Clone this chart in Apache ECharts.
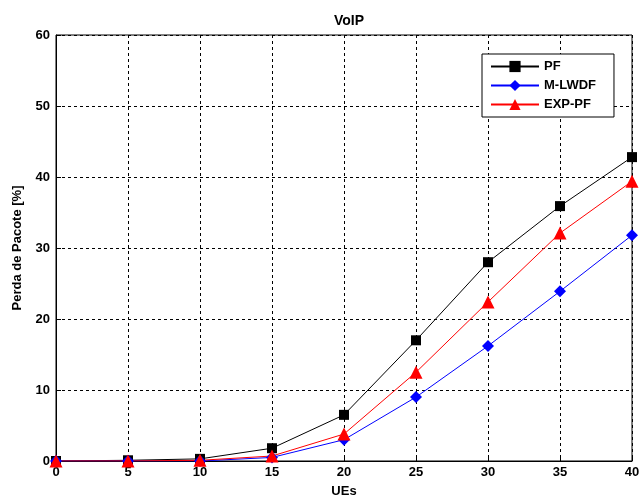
<!DOCTYPE html>
<html><head><meta charset="utf-8">
<script src="https://cdn.jsdelivr.net/npm/echarts@6/dist/echarts.min.js"></script>
<style>html,body{margin:0;padding:0;background:#fff}#c{width:639px;height:497px}</style>
</head><body><div id="c"></div>
<script>
const ues = [0, 5, 10, 15, 20, 25, 30, 35, 40];
const pf = [0, 0.1, 0.3, 1.8, 6.5, 17.0, 28.0, 35.9, 42.8];
const mlwdf = [0, 0, 0, 0.5, 3.0, 9.0, 16.2, 23.9, 31.8];
const exppf = [0, 0, 0.1, 0.7, 3.8, 12.5, 22.4, 32.1, 39.4];
const seriesNames = ['PF', 'M-LWDF', 'EXP-PF'];

const font = 'Liberation Sans, Arial, sans-serif';
const chart = echarts.init(document.getElementById('c'), null, {renderer: 'canvas'});
const pair = arr => ues.map((u, i) => [u, arr[i]]);
const axisCommon = {
  axisLine: {show: true, lineStyle: {color: '#000', width: 1}},
  axisTick: {show: true, inside: true, length: 5, lineStyle: {color: '#000'}},
  splitLine: {show: true, lineStyle: {color: '#000', type: [3, 3], width: 1}},
  axisLabel: {color: '#000', fontFamily: font, fontWeight: 'bold', fontSize: 13},
  nameTextStyle: {color: '#000', fontFamily: font, fontWeight: 'bold', fontSize: 13}
};
chart.setOption({
  animation: false,
  backgroundColor: '#fff',
  title: {text: 'VoIP', left: 344, top: 9, textAlign: 'center',
    textStyle: {fontFamily: font, fontWeight: 'bold', fontSize: 14, color: '#000'}},
  grid: {left: 56, right: 7, top: 35, bottom: 36, show: true, borderColor: '#000', borderWidth: 1,
    containLabel: false, outerBoundsMode: 'none'},
  xAxis: Object.assign({}, axisCommon, {
    type: 'value', min: 0, max: 40, interval: 5,
    name: 'UEs', nameLocation: 'middle', nameGap: 24,
    axisLabel: Object.assign({}, axisCommon.axisLabel, {margin: 5})
  }),
  yAxis: Object.assign({}, axisCommon, {
    type: 'value', min: 0, max: 60, interval: 10,
    name: 'Perda de Pacote [%]', nameLocation: 'middle', nameGap: 32,
    axisLabel: Object.assign({}, axisCommon.axisLabel, {margin: 6})
  }),
  legend: {
    orient: 'vertical', left: 482, top: 54,
    backgroundColor: '#fff', borderColor: '#000', borderWidth: 1,
    padding: [6, 18, 6, 8], itemGap: 6, itemWidth: 48, itemHeight: 14,
    textStyle: {fontFamily: font, fontWeight: 'bold', fontSize: 13, color: '#000'},
    data: seriesNames
  },
  series: [
    {name: seriesNames[0], type: 'line', data: pair(pf), symbol: 'rect', symbolSize: 10,
      itemStyle: {color: '#000'}, lineStyle: {color: '#000', width: 1}},
    {name: seriesNames[1], type: 'line', data: pair(mlwdf), symbol: 'diamond', symbolSize: 12,
      itemStyle: {color: '#0000ff'}, lineStyle: {color: '#0000ff', width: 1}},
    {name: seriesNames[2], type: 'line', data: pair(exppf), symbol: 'triangle', symbolSize: 13,
      itemStyle: {color: '#ff0000'}, lineStyle: {color: '#ff0000', width: 1}}
  ]
});
</script></body></html>
